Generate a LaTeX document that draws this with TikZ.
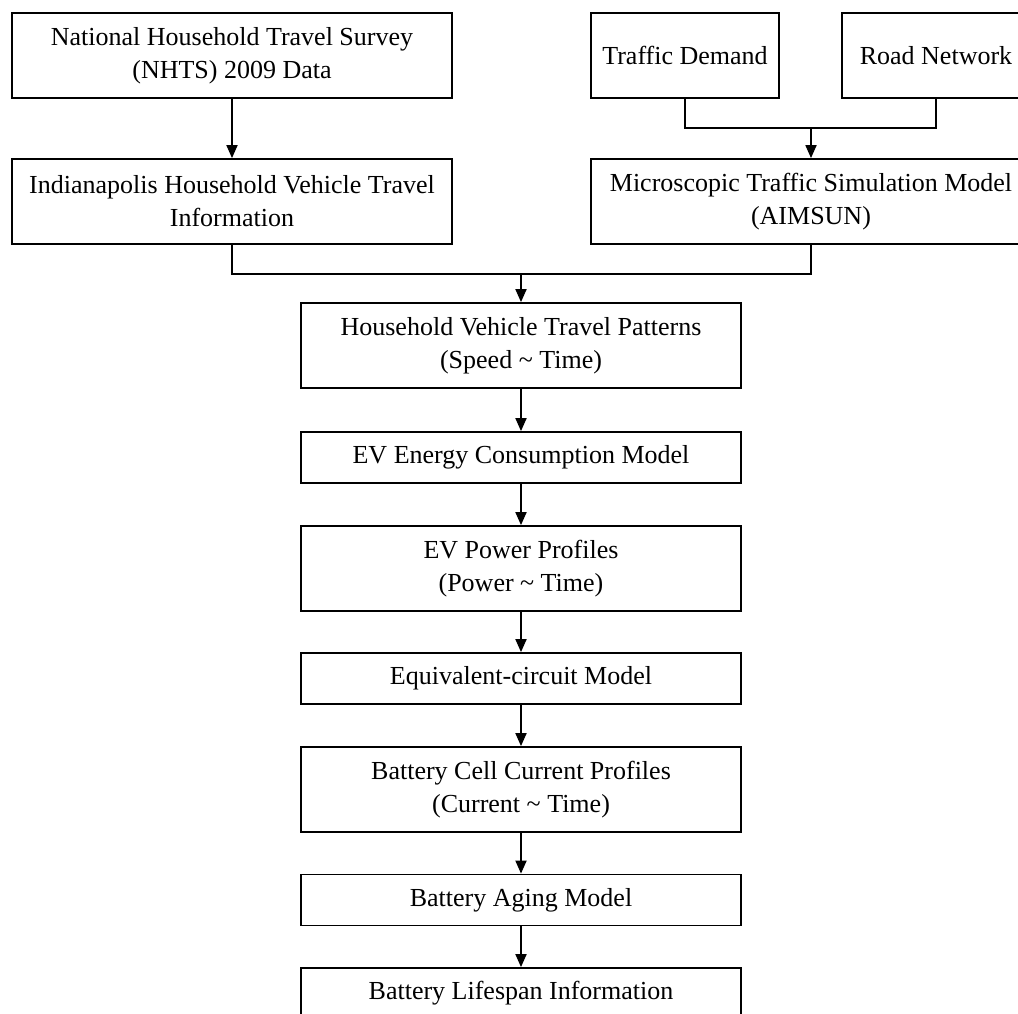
\documentclass[tikz,border=0pt]{standalone}
\usepackage{fontspec}
\setmainfont{Liberation Serif}
\usetikzlibrary{arrows.meta}
\begin{document}
\begin{tikzpicture}[x=1pt,y=-1pt,
  box/.style={draw, line width=1.8pt, rectangle, inner sep=0pt, align=center,
    font=\fontsize{26}{33}\selectfont},
  wide/.style={box, minimum width=440pt},
  narrow/.style={box, minimum width=188pt},
  tall/.style={minimum height=85pt},
  short/.style={minimum height=51pt},
  conn/.style={line width=1.8pt},
  arr/.style={line width=1.8pt,-{Triangle[length=13pt,width=11pt]}}]
\useasboundingbox (0,0) rectangle (1018,1013);
\clip (0,0) rectangle (1018,1013);
% top left column
\node[wide,tall] (nhts) at (232,55.5) {National Household Travel Survey\\(NHTS) 2009 Data};
\node[wide,tall] (indy) at (232,201.5) {Indianapolis Household Vehicle Travel\\Information};
% top right column
\node[narrow,tall] (td) at (685,55.5) {Traffic Demand};
\node[narrow,tall] (rn) at (936,55.5) {Road Network};
\node[wide,tall] (micro) at (811,201.5) {Microscopic Traffic Simulation Model\\(AIMSUN)};
% central column
\node[wide,tall] (hvtp) at (521,345.5) {Household Vehicle Travel Patterns\\(Speed \textasciitilde\ Time)};
\node[wide,short] (ecm) at (521,457.5) {EV Energy Consumption Model};
\node[wide,tall] (pow) at (521,568.5) {EV Power Profiles\\(Power \textasciitilde\ Time)};
\node[wide,short] (eq) at (521,678.5) {Equivalent-circuit Model};
\node[wide,tall] (cell) at (521,789.5) {Battery Cell Current Profiles\\(Current \textasciitilde\ Time)};
\node[wide,short] (aging) at (521,900) {Battery Aging Model};
\node[wide,short] (life) at (521,993.5) {Battery Lifespan Information};
% junctions
\coordinate (j1) at (811,128);
\coordinate (j2) at (521,274);
% connectors
\draw[arr] (nhts.south) -- (indy.north);
\draw[conn] (td.south) |- (j1) -| (rn.south);
\draw[arr] (j1) -- (micro.north);
\draw[conn] (indy.south) |- (j2) -| (micro.south);
\draw[arr] (j2) -- (hvtp.north);
\draw[arr] (hvtp.south) -- (ecm.north);
\draw[arr] (ecm.south) -- (pow.north);
\draw[arr] (pow.south) -- (eq.north);
\draw[arr] (eq.south) -- (cell.north);
\draw[arr] (cell.south) -- (aging.north);
\draw[arr] (aging.south) -- (life.north);
\end{tikzpicture}
\end{document}
